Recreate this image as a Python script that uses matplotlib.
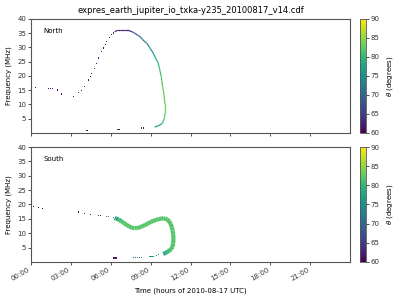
import matplotlib
matplotlib.use('Agg')
from matplotlib import pyplot as plt
from matplotlib.collections import LineCollection
import numpy as np

title = 'expres_earth_jupiter_io_txka-y235_20100817_v14.cdf'
xticks = [0, 3, 6, 9, 12, 15, 18, 21]
xticklabels = ['00:00', '03:00', '06:00', '09:00', '12:00', '15:00', '18:00', '21:00']
yticks = [5, 10, 15, 20, 25, 30, 35, 40]
cbar_ticks = [60, 65, 70, 75, 80, 85, 90]

# North: isolated samples (time in hours, frequency MHz, theta deg)
north_t = [0.35, 1.3, 1.45, 1.6, 2.0, 2.3, 3.2, 3.6, 3.8, 4.0, 4.3, 4.45, 4.56, 4.75,
           4.94, 5.1, 5.3, 5.45, 5.6, 5.7, 5.9, 6.07, 6.2,
           4.15, 4.25, 6.5, 6.62, 8.3, 8.45]
north_f = [16.0, 15.7, 15.7, 15.7, 15.1, 13.7, 12.9, 14.3, 14.8, 16.2, 18.6, 19.8, 20.9, 22.6,
           24.4, 26.3, 28.5, 29.8, 31.0, 32.0, 33.5, 34.6, 35.1,
           0.95, 0.95, 1.3, 1.3, 1.75, 1.75]
north_theta = [61, 61, 61, 61, 61, 61, 62, 62, 62, 62, 62, 62, 62, 62,
               62, 62, 62, 62, 62, 62, 63, 63, 63,
               61, 61, 62, 62, 63, 63]

# North: continuous part of the arc
north_arc_t = [6.3, 6.4, 6.5, 6.7, 6.9, 7.1, 7.3, 7.45, 7.6, 7.7, 7.8, 7.9, 8.0, 8.1, 8.2,
               8.3, 8.4, 8.5, 8.6, 8.7, 8.8, 8.9, 9.0, 9.1, 9.2, 9.3, 9.4, 9.5, 9.57,
               9.65, 9.72, 9.8, 9.85, 9.9, 9.95, 10.0, 10.05, 10.07, 10.07, 10.07, 10.05,
               9.95, 9.85, 9.7, 9.5, 9.3]
north_arc_f = [35.5, 35.8, 36.0, 36.0, 36.0, 36.0, 36.0, 35.8, 35.5, 35.3, 35.0, 34.7, 34.4,
               34.1, 33.8, 33.3, 32.8, 32.3, 31.9, 31.5, 30.9, 30.2, 29.5, 28.7, 28.0, 27.0,
               26.0, 25.2, 24.5, 23.0, 21.5, 19.8, 18.0, 16.5, 15.1, 13.5, 11.5, 10.0, 8.5,
               6.9, 5.5, 4.0, 3.3, 2.8, 2.4, 2.1]
north_arc_theta = [63, 63, 63, 63, 63, 63, 64, 64, 65, 66, 67, 68, 69, 70, 71,
                   72, 72, 73, 73, 74, 74, 75, 76, 76, 77, 78, 79, 80, 80,
                   81, 81, 82, 82, 83, 83, 83, 83, 83, 83, 83, 82,
                   80, 78, 77, 76, 75]

# South: isolated samples
south_t = [0.17, 0.55, 0.88, 3.56, 4.0, 4.5, 5.1, 5.2, 5.7, 5.85, 6.2,
           6.25, 6.35, 6.45, 7.7, 7.85, 8.0, 8.15, 8.3, 8.9, 9.0, 9.1, 9.2, 9.45, 9.6]
south_f = [19.3, 19.0, 18.6, 17.4, 16.9, 16.5, 16.2, 16.2, 15.9, 15.85, 15.4,
           1.4, 1.4, 1.4, 1.7, 1.7, 1.7, 1.7, 1.7, 2.0, 2.0, 2.0, 2.0, 2.4, 2.5]
south_theta = [60, 60, 60, 61, 62, 63, 64, 64, 72, 72, 76,
               62, 62, 62, 73, 73, 73, 73, 73, 75, 75, 75, 75, 76, 76]

# South: continuous band
south_arc_t = [6.3, 6.4, 6.6, 6.8, 7.0, 7.2, 7.4, 7.6, 7.8, 7.9, 8.0, 8.2, 8.4, 8.6, 8.8,
               9.0, 9.2, 9.4, 9.6, 9.8, 9.95, 10.1, 10.25, 10.4, 10.5, 10.6, 10.65, 10.7,
               10.72, 10.7, 10.65, 10.55, 10.4, 10.25, 10.1, 9.95]
south_arc_f = [15.3, 15.1, 14.8, 14.2, 13.5, 12.9, 12.3, 11.9, 11.7, 11.7, 11.8, 12.1, 12.5,
               12.9, 13.4, 13.9, 14.3, 14.6, 14.9, 15.1, 15.2, 15.1, 14.8, 14.2, 13.3, 12.0,
               11.0, 9.5, 8.0, 6.5, 5.3, 4.5, 3.9, 3.5, 3.1, 2.8]
south_arc_theta = [77, 79, 81, 82, 82, 82, 82, 82, 82, 82, 82, 82, 82, 82, 82,
                   82, 82, 82, 82, 82, 82, 82, 82, 82, 82, 82, 82, 82,
                   82, 82, 82, 81, 80, 79, 78, 77]

plt.rcParams['font.size'] = 5
plt.rcParams['axes.edgecolor'] = '#555555'
plt.rcParams['xtick.color'] = '#333333'
plt.rcParams['ytick.color'] = '#333333'

fig = plt.figure(figsize=(4, 3), dpi=100)
ax1 = fig.add_axes([0.0775, 0.5567, 0.7975, 0.38])
ax2 = fig.add_axes([0.0775, 0.1267, 0.7975, 0.3833])
cax1 = fig.add_axes([0.9, 0.5567, 0.015, 0.38])
cax2 = fig.add_axes([0.9, 0.1267, 0.015, 0.3833])

cmap = plt.get_cmap('viridis')
norm = plt.Normalize(60, 90)


def draw(ax, cax, t, f, th, at, af, ath, lw, name):
    ax.scatter(t, f, c=th, cmap=cmap, norm=norm, marker='s', s=0.7, linewidths=0)
    pts = np.column_stack([at, af])
    segs = np.stack([pts[:-1], pts[1:]], axis=1)
    lc = LineCollection(segs, cmap=cmap, norm=norm, linewidths=lw, capstyle='butt')
    lc.set_array(np.array(ath[:-1], dtype=float))
    ax.add_collection(lc)
    ax.set_xlim(0, 24)
    ax.set_ylim(0, 40)
    ax.set_yticks(yticks)
    ax.set_xticks(xticks)
    ax.set_ylabel('Frequency (MHz)')
    ax.tick_params(length=2, width=0.6, pad=1.5)
    ax.text(0.04, 0.92, name, transform=ax.transAxes, va='top', ha='left')
    cb = fig.colorbar(lc, cax=cax, ticks=cbar_ticks)
    cb.set_label(r'$\theta$ (degrees)')
    cb.ax.tick_params(length=2, width=0.6, pad=1.5)
    cb.outline.set_linewidth(0.6)
    for s in ax.spines.values():
        s.set_linewidth(0.8)


draw(ax1, cax1, north_t, north_f, north_theta, north_arc_t, north_arc_f, north_arc_theta, 0.9, 'North')
draw(ax2, cax2, south_t, south_f, south_theta, south_arc_t, south_arc_f, south_arc_theta, 3.0, 'South')

ax1.set_xticklabels([])
ax2.set_xticklabels(xticklabels, rotation=30, ha='right')
ax2.set_xlabel('Time (hours of 2010-08-17 UTC)')
ax1.set_title(title, fontsize=6, pad=4)

fig.savefig('out.png', dpi=100)
